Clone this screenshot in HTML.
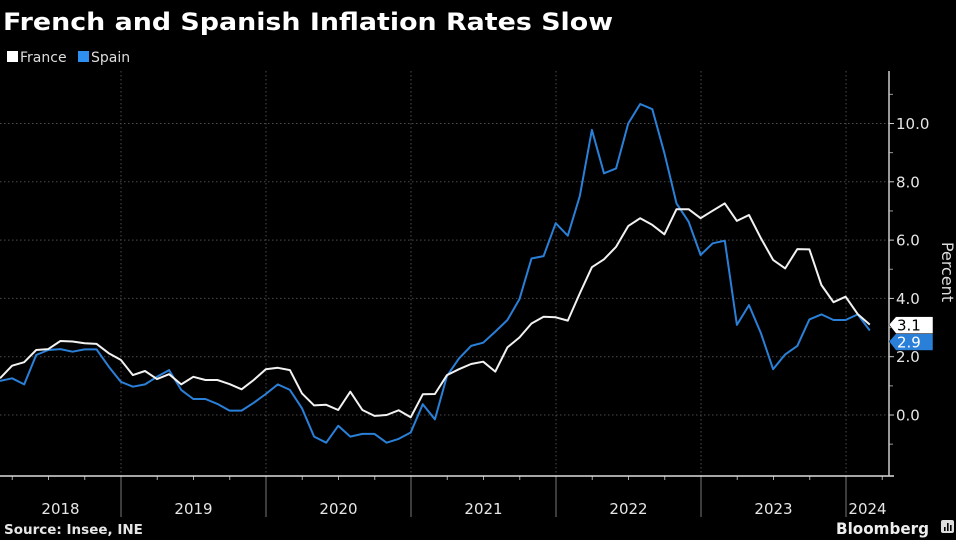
<!DOCTYPE html>
<html><head><meta charset="utf-8"><style>
html,body{margin:0;padding:0;background:#000;}
svg{display:block;}
text{font-family:"DejaVu Sans","Liberation Sans",sans-serif;}
</style></head><body>
<svg id="chart" width="956" height="540" viewBox="0 0 956 540">
<rect x="0" y="0" width="956" height="540" fill="#000"/>
<text x="3" y="30" fill="#fff" font-size="24" font-weight="bold" textLength="610" lengthAdjust="spacingAndGlyphs">French and Spanish Inflation Rates Slow</text>
<g>
<g><rect x="7" y="51" width="11" height="11" fill="#fff"/><text x="20" y="62" fill="#ddd" font-size="14">France</text></g>
<g><rect x="78" y="51" width="11" height="11" fill="#2f8ff0"/><text x="91" y="62" fill="#ddd" font-size="14">Spain</text></g>
</g>
<g id="grid"></g>
<g id="axes"></g>
<g id="series"></g>
<g id="labels"></g>
<text x="942" y="272" fill="#ddd" font-size="16" text-anchor="middle" transform="rotate(90 942 272)">Percent</text>
<text x="4" y="534" fill="#e6e6e6" font-size="13.5" font-weight="bold">Source: Insee, INE</text>
<g>
<text x="836" y="534" fill="#eee" font-size="16" font-weight="bold" textLength="93" lengthAdjust="spacingAndGlyphs">Bloomberg</text>
<rect x="941" y="520" width="13" height="13" rx="2" fill="#ddd"/>
<rect x="944" y="527" width="1.6" height="4" fill="#000"/><rect x="947" y="523" width="1.6" height="8" fill="#000"/><rect x="950" y="525" width="1.6" height="6" fill="#000"/>
</g>
</svg>
<script>
const years = ["2018","2019","2020","2021","2022","2023","2024"];
const yTicks = [0, 2, 4, 6, 8, 10];
const yTickLabels = ["0.0","2.0","4.0","6.0","8.0","10.0"];
const france = [1.26,1.69,1.81,2.23,2.26,2.54,2.52,2.46,2.44,2.12,1.89,1.37,1.51,1.23,1.40,1.05,1.31,1.20,1.20,1.06,0.88,1.20,1.57,1.62,1.54,0.74,0.33,0.35,0.17,0.80,0.17,-0.03,0.0,0.16,-0.08,0.71,0.72,1.37,1.57,1.75,1.83,1.49,2.32,2.66,3.14,3.37,3.35,3.24,4.17,5.07,5.34,5.77,6.48,6.75,6.52,6.20,7.06,7.06,6.75,7.01,7.26,6.66,6.86,6.06,5.32,5.03,5.69,5.68,4.46,3.87,4.06,3.46,3.1];
const spain = [1.17,1.26,1.05,2.06,2.23,2.26,2.17,2.25,2.25,1.66,1.14,0.97,1.05,1.31,1.54,0.86,0.55,0.55,0.38,0.15,0.15,0.42,0.72,1.05,0.86,0.23,-0.74,-0.95,-0.37,-0.74,-0.65,-0.65,-0.95,-0.82,-0.6,0.37,-0.15,1.34,1.94,2.37,2.48,2.86,3.26,3.97,5.37,5.45,6.58,6.15,7.51,9.78,8.29,8.46,10.0,10.67,10.49,8.98,7.26,6.63,5.49,5.89,5.98,3.09,3.77,2.80,1.57,2.08,2.37,3.28,3.45,3.26,3.26,3.45,2.9];
const NS="http://www.w3.org/2000/svg";
const X0=0, DX=12.08, AXX=889, TOP=71, BOT=476;
const xOf=i=>X0+i*DX;
const yOf=v=>415-v*29.15;
const yearX=k=>121+(k-1)*145;
function mk(tag,attrs,parent){const e=document.createElementNS(NS,tag);for(const k in attrs)e.setAttribute(k,attrs[k]);parent.appendChild(e);return e;}
const grid=document.getElementById('grid'), axes=document.getElementById('axes'), series=document.getElementById('series'), labels=document.getElementById('labels');
yTicks.forEach((t,j)=>{
  const l=mk('line',{x1:0,x2:AXX,y1:yOf(t),y2:yOf(t),stroke:'#4a4a4a','stroke-dasharray':'1.5,2.5'},grid);
  
  
  mk('line',{x1:AXX,x2:AXX+5,y1:yOf(t),y2:yOf(t),stroke:'#ccc'},axes);
  const tx=mk('text',{x:AXX+7,y:yOf(t)+5.5,fill:'#e6e6e6','font-size':15},axes);
  tx.textContent=yTickLabels[j];
  
  
});
[-1,1,3,5,7,9,11].forEach(t=>mk('line',{x1:AXX,x2:AXX+4,y1:yOf(t),y2:yOf(t),stroke:'#999'},axes));
for(let k=1;k<years.length;k++){
  const x=yearX(k);
  const l=mk('line',{x1:x,x2:x,y1:TOP,y2:BOT,stroke:'#4a4a4a','stroke-dasharray':'1.5,2.5'},grid);
  
  
  mk('line',{x1:x,x2:x,y1:BOT,y2:517,stroke:'#777'},axes);
}
for(let q=-3;q<28;q++){const x=121+q*145/4; if(x>2&&x<AXX&&q%4!==0) mk('line',{x1:x,x2:x,y1:BOT,y2:BOT+4,stroke:'#aaa'},axes);}
years.forEach((y,k)=>{
  const a=k===0?0:yearX(k), b=k===years.length-1?AXX:yearX(k+1);
  const t=mk('text',{x:(a+b)/2,y:514,fill:'#e6e6e6','font-size':15,'text-anchor':'middle'},axes);
  t.textContent=y;
  
  
});
const ax=mk('line',{x1:0,x2:AXX+5,y1:BOT,y2:BOT,stroke:'#ddd','stroke-width':1.5},axes);


const ay=mk('line',{x1:AXX,x2:AXX,y1:TOP,y2:BOT,stroke:'#ccc','stroke-width':1.5},axes);


function line(data,color,name){
  const p=mk('polyline',{points:data.map((v,i)=>xOf(i).toFixed(1)+','+yOf(v).toFixed(1)).join(' '),fill:'none',stroke:color,'stroke-width':2,'stroke-linejoin':'round'},series);
  
  
}
line(spain,'#2a80d8','spain-line');
line(france,'#f2f2f2','france-line');
function tag(v,bg,fg,name,dy){
  const y=yOf(v)+dy;
  const g=mk('g',{},labels);
  
  
  mk('path',{d:`M${AXX},${y} L${AXX+7},${y-8} L${AXX+44},${y-8} L${AXX+44},${y+9} L${AXX+7},${y+9} Z`,fill:bg,stroke:'#000','stroke-width':0.5},g);
  const t=mk('text',{x:AXX+8,y:y+6,fill:fg,'font-size':15},g);
  t.textContent=v.toFixed(1);
}
tag(spain[spain.length-1],'#2a80d8','#fff','spain-end-label',11);
tag(france[france.length-1],'#fff','#000','france-end-label',0);
</script>
</body></html>
